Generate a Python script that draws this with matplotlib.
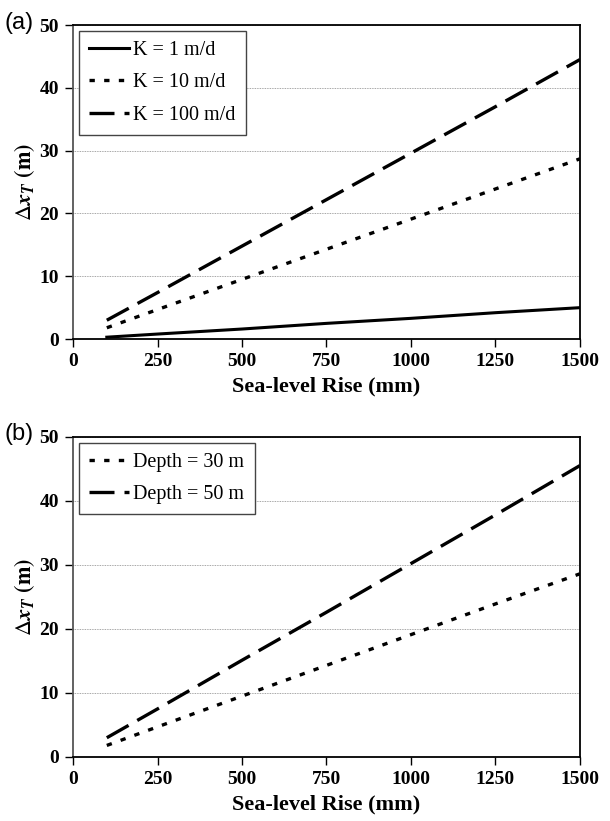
import numpy as np
import matplotlib
matplotlib.use("Agg")
import matplotlib.pyplot as plt

plt.rcParams["font.family"] = "Liberation Serif"
plt.rcParams["mathtext.fontset"] = "stix"

# sea-level rise (mm)
rise = [100, 250, 500, 750, 1000, 1250, 1500]

# panel (a): hydraulic conductivity
k1 = [0.3, 0.8, 1.6, 2.5, 3.3, 4.2, 5.0]
k10 = [1.8, 4.7, 9.5, 14.3, 19.1, 23.9, 28.7]
k100 = [3.0, 7.4, 14.8, 22.2, 29.6, 37.0, 44.5]

# panel (b): aquifer depth
d30 = [1.8, 4.7, 9.5, 14.3, 19.1, 23.9, 28.6]
d50 = [3.0, 7.5, 15.1, 22.6, 30.2, 37.8, 45.5]

xticks = [0, 250, 500, 750, 1000, 1250, 1500]
yticks = [0, 10, 20, 30, 40, 50]

fig = plt.figure(figsize=(6.1, 8.21), dpi=100)
axA = fig.add_axes([0.1197, 0.587, 0.831, 0.3825])
axB = fig.add_axes([0.1197, 0.078, 0.831, 0.39])

solid = dict(color="black", lw=2.2, linestyle="-")
dotted = dict(color="black", lw=2.4, linestyle=(0, (1.6, 2.8)))
dashed = dict(color="black", lw=2.4, linestyle=(0, (7.5, 3.0)))

axA.plot(rise, k1, label="K = 1 m/d", **solid)
axA.plot(rise, k10, label="K = 10 m/d", **dotted)
axA.plot(rise, k100, label="K = 100 m/d", **dashed)

axB.plot(rise, d30, label="Depth = 30 m", **dotted)
axB.plot(rise, d50, label="Depth = 50 m", **dashed)

for ax, tag in [(axA, "(a)"), (axB, "(b)")]:
    ax.set_xlim(0, 1500)
    ax.set_ylim(0, 50)
    ax.set_xticks(xticks)
    ax.set_yticks(yticks)
    ax.tick_params(direction="out", length=6, width=1, labelsize=14, pad=4)
    for lab in ax.get_xticklabels() + ax.get_yticklabels():
        lab.set_fontweight("bold")
    ax.yaxis.grid(True, color="#888888", linestyle=(0, (1, 1)), lw=0.6)
    ax.set_axisbelow(True)
    for s in ax.spines.values():
        s.set_linewidth(1.3)
    ax.spines["left"].set_color("#555555")
    ax.set_xlabel("Sea-level Rise (mm)", fontsize=16, fontweight="bold", labelpad=5)
    ax.set_ylabel(r"$\Delta \mathbfit{x}_{\mathbfit{T}}$ $\mathbf{(m)}$", fontsize=16, labelpad=2)
    bb = ax.get_position()
    fig.text(0.008, bb.y1 + 0.003, tag, fontsize=17, family="Liberation Sans",
             va="center", ha="left")
    leg = ax.legend(loc="upper left", fontsize=14.5, handlelength=2.0, handletextpad=0.2,
                    labelspacing=0.65, borderpad=0.5, fancybox=False, framealpha=1,
                    edgecolor="#444444", borderaxespad=0.3)
    leg.get_frame().set_linewidth(1.0)

fig.savefig("out.png", dpi=100)
